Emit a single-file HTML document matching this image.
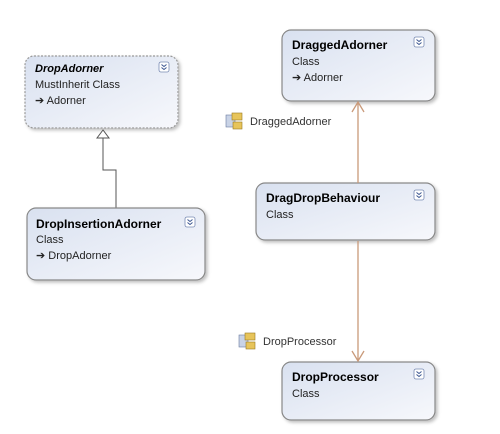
<!DOCTYPE html>
<html><head><style>
body{margin:0;background:#fff;}
svg{display:block;font-family:"Liberation Sans",sans-serif;}
</style></head><body>
<svg width="500" height="434" viewBox="0 0 500 434" xmlns="http://www.w3.org/2000/svg">
<defs>
<linearGradient id="g" x1="0" y1="0" x2="1" y2="1">
<stop offset="0" stop-color="#d9e1f0"/><stop offset="1" stop-color="#f7f8fc"/>
</linearGradient>
<filter id="s" x="-10%" y="-10%" width="130%" height="130%"><feDropShadow dx="2" dy="2" stdDeviation="1.5" flood-color="#000" flood-opacity="0.25"/></filter>
<g id="btn"><rect x="0" y="0" width="10" height="10" rx="2" fill="#fff" stroke="#7a8cb4" stroke-width="0.8"/><path d="M2.5 2.5 L5 4.5 L7.5 2.5 M2.5 5.5 L5 7.5 L7.5 5.5" fill="none" stroke="#3a5590" stroke-width="1"/></g>
<g id="ico"><rect x="0" y="2" width="9" height="12" fill="#c9d3e6" stroke="#6b7ba0" stroke-width="0.6"/><rect x="6" y="0" width="10" height="7" fill="#e7c45a" stroke="#9a7a20" stroke-width="0.6"/><rect x="7" y="9" width="9" height="7" fill="#e7c45a" stroke="#9a7a20" stroke-width="0.6"/></g>
</defs>

<!-- DropAdorner (abstract, dashed) -->
<rect x="25" y="56" width="153" height="72" rx="9" fill="url(#g)" stroke="#999" stroke-width="1.2" stroke-dasharray="2,1.5" filter="url(#s)"/>
<text x="35" y="72" font-size="11" font-weight="bold" font-style="italic" fill="#000">DropAdorner</text>
<text x="35" y="88" font-size="11" fill="#222">MustInherit Class</text>
<text x="35" y="104" font-size="11" fill="#222">➔ Adorner</text>
<use href="#btn" x="159" y="62"/>

<!-- inheritance -->
<path d="M116 208 V170 H103 V137" fill="none" stroke="#555" stroke-width="1"/>
<path d="M103 130 L97 138 H109 Z" fill="#fff" stroke="#555" stroke-width="1"/>

<!-- DropInsertionAdorner -->
<rect x="27" y="208" width="178" height="72" rx="9" fill="url(#g)" stroke="#888" stroke-width="1.2" filter="url(#s)"/>
<text x="36" y="228" font-size="12" font-weight="bold" fill="#000">DropInsertionAdorner</text>
<text x="36" y="243" font-size="11" fill="#222">Class</text>
<text x="36" y="259" font-size="11" fill="#222">➔ DropAdorner</text>
<use href="#btn" x="185" y="217"/>

<!-- DraggedAdorner -->
<rect x="282" y="30" width="153" height="71" rx="9" fill="url(#g)" stroke="#888" stroke-width="1.2" filter="url(#s)"/>
<text x="292" y="49" font-size="12" font-weight="bold" fill="#000">DraggedAdorner</text>
<text x="292" y="65" font-size="11" fill="#222">Class</text>
<text x="292" y="81" font-size="11" fill="#222">➔ Adorner</text>
<use href="#btn" x="414" y="37"/>

<!-- DragDropBehaviour -->
<rect x="256" y="183" width="179" height="57" rx="9" fill="url(#g)" stroke="#888" stroke-width="1.2" filter="url(#s)"/>
<text x="266" y="202" font-size="12" font-weight="bold" fill="#000">DragDropBehaviour</text>
<text x="266" y="218" font-size="11" fill="#222">Class</text>
<use href="#btn" x="414" y="190"/>

<!-- DropProcessor -->
<rect x="282" y="362" width="153" height="58" rx="9" fill="url(#g)" stroke="#888" stroke-width="1.2" filter="url(#s)"/>
<text x="292" y="381" font-size="12" font-weight="bold" fill="#000">DropProcessor</text>
<text x="292" y="397" font-size="11" fill="#222">Class</text>
<use href="#btn" x="414" y="369"/>

<!-- associations -->
<path d="M358 183 V102 M352 112 L358 102 L364 112" fill="none" stroke="#c99a7a" stroke-width="1.3"/>
<path d="M358 241 V361 M352 351 L358 361 L364 351" fill="none" stroke="#c99a7a" stroke-width="1.3"/>

<use href="#ico" x="226" y="113"/>
<text x="250" y="125" font-size="11" fill="#333">DraggedAdorner</text>
<use href="#ico" x="239" y="333"/>
<text x="263" y="345" font-size="11" fill="#333">DropProcessor</text>
</svg>
</body></html>
